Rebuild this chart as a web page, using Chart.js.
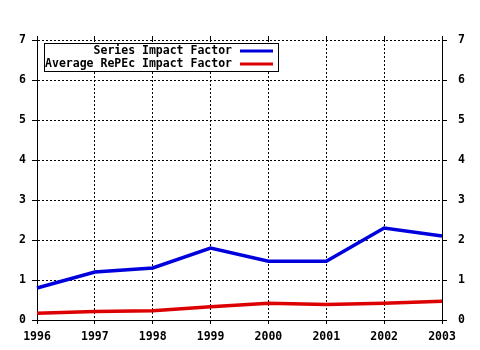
<!DOCTYPE html>
<html>
<head>
<meta charset="utf-8">
<script src="https://cdn.jsdelivr.net/npm/chart.js@4"></script>
<style>
  html, body { margin: 0; padding: 0; background: #fff; }
  #wrap { width: 480px; height: 350px; }
</style>
</head>
<body>
<div id="wrap"><canvas id="impact" width="480" height="350"></canvas></div>
<script>
// impact factor per year
const YEARS = ['1996', '1997', '1998', '1999', '2000', '2001', '2002', '2003'];
const SERIES_IF = [0.8, 1.2, 1.3, 1.8, 1.47, 1.47, 2.3, 2.1];
const REPEC_AVG_IF = [0.17, 0.21, 0.23, 0.33, 0.42, 0.39, 0.42, 0.47];
const Y_TICKS = [0, 1, 2, 3, 4, 5, 6, 7];

const FONT = { family: '"DejaVu Sans Mono", monospace', size: 11.5, weight: 'bold' };
const dotted = [2, 2];

// legend box: label right-aligned, colour sample on the right
const boxLegend = {
  id: 'boxLegend',
  afterDraw(chart) {
    const ctx = chart.ctx;
    const x0 = 44, y0 = 43, w = 234, h = 28;
    ctx.save();
    ctx.fillStyle = '#fff';
    ctx.fillRect(x0, y0, w, h);
    ctx.strokeStyle = '#000';
    ctx.lineWidth = 1;
    ctx.strokeRect(x0 + 0.5, y0 + 0.5, w, h);
    ctx.font = `bold ${FONT.size}px ${FONT.family}`;
    ctx.textAlign = 'right';
    ctx.textBaseline = 'middle';
    chart.data.datasets.forEach((ds, i) => {
      const y = y0 + 8 + i * 13;
      ctx.fillStyle = '#000';
      ctx.fillText(ds.label, 232, y);
      ctx.strokeStyle = ds.borderColor;
      ctx.lineWidth = 3;
      ctx.beginPath();
      ctx.moveTo(240, y);
      ctx.lineTo(273, y);
      ctx.stroke();
    });
    ctx.restore();
  }
};

new Chart(document.getElementById('impact'), {
  type: 'line',
  data: {
    labels: YEARS,
    datasets: [
      { label: 'Series Impact Factor', data: SERIES_IF, borderColor: '#0000dd', borderWidth: 3.5, pointRadius: 0, tension: 0 },
      { label: 'Average RePEc Impact Factor', data: REPEC_AVG_IF, borderColor: '#dd0000', borderWidth: 3.5, pointRadius: 0, tension: 0 }
    ]
  },
  options: {
    responsive: false,
    animation: false,
    layout: { padding: { top: 36, left: 0, right: 0, bottom: 0 } },
    plugins: { legend: { display: false }, tooltip: { enabled: false } },
    scales: {
      x: {
        offset: false,
        grid: { color: '#000', tickColor: '#000', tickBorderDash: [], tickLength: 4 },
        border: { display: true, color: '#000', width: 1, dash: dotted },
        ticks: { font: FONT, color: '#000', padding: 6, maxRotation: 0, autoSkip: false },
        afterFit: s => { s.height = 30; }
      },
      xTop: {
        position: 'top',
        labels: YEARS,
        offset: false,
        grid: { drawOnChartArea: false, tickColor: '#000', tickLength: 4 },
        border: { display: false },
        ticks: { display: false },
        afterFit: s => { s.height = 4; }
      },
      y: {
        min: 0, max: 7,
        afterBuildTicks: s => { s.ticks = Y_TICKS.map(v => ({ value: v })); },
        grid: { color: '#000', tickColor: '#000', tickBorderDash: [], tickLength: 5 },
        border: { display: true, color: '#000', width: 1, dash: dotted },
        ticks: { font: FONT, color: '#000', padding: 6 },
        afterFit: s => { s.width = 37; }
      },
      yRight: {
        position: 'right',
        min: 0, max: 7,
        afterBuildTicks: s => { s.ticks = Y_TICKS.map(v => ({ value: v })); },
        grid: { drawOnChartArea: false, tickColor: '#000', tickLength: 5 },
        border: { display: true, color: '#000', width: 1 },
        ticks: { font: FONT, color: '#000', padding: 11 },
        afterFit: s => { s.width = 38; }
      }
    }
  },
  plugins: [boxLegend]
});
</script>
</body>
</html>
